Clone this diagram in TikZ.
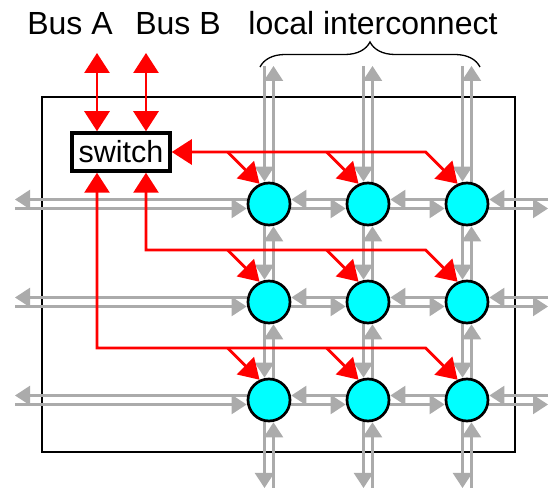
\documentclass[tikz,border=0pt]{standalone}
\usepackage{fontspec}
\setmainfont{Liberation Sans}
\usetikzlibrary{arrows.meta,calc,decorations.pathreplacing}
\definecolor{gline}{HTML}{ABABAB}
\definecolor{peblue}{HTML}{00FFFF}
\pgfdeclarelayer{bg}
\pgfdeclarelayer{mid}
\pgfsetlayers{bg,mid,main}
\begin{document}
\begin{tikzpicture}[x=1pt,y=-1pt,
  garr/.style={draw=gline,line width=2.3pt,-{Triangle[length=15pt,width=19pt]}},
  rline/.style={draw=red,line width=2.8pt},
  rtip/.style={-{Triangle[length=20pt,width=24pt]}},
  rboth/.style={{Triangle[length=20pt,width=25pt]}-{Triangle[length=20pt,width=25pt]}},
  pe/.style={circle,draw=black,fill=peblue,line width=2.7pt,minimum size=42pt,inner sep=0pt},
  swbox/.style={draw=black,fill=white,line width=3.5pt,minimum width=98pt,minimum height=38pt,inner sep=0pt,font=\fontsize{30.5}{32}\selectfont},
  lbl/.style={font=\fontsize{32}{34}\selectfont,anchor=base,inner sep=0pt},
  chipbox/.style={draw=black,line width=1.5pt,minimum width=473pt,minimum height=355pt,inner sep=0pt}]
\useasboundingbox (0,0) rectangle (550,489);

% labels
\node[lbl] (la) at (70,35) {Bus A};
\node[lbl] (lb) at (178,35) {Bus B};
\node[lbl] (lc) at (373,35) {local interconnect};

% processing elements
\foreach \r/\yy in {1/204,2/302,3/400}{
  \foreach \c/\xx in {1/269,2/368,3/467}{
    \node[pe] (n\r\c) at (\xx,\yy) {};
  }
  \coordinate (L\r) at (15,\yy);
  \coordinate (R\r) at (548,\yy);
}
\foreach \c/\xx in {1/269,2/368,3/467}{
  \coordinate (T\c) at (\xx,66);
  \coordinate (B\c) at (\xx,488);
}

% switch
\node[swbox] (sw) at (121,152) {switch};
\coordinate (swAn) at ([xshift=-24pt]sw.north);
\coordinate (swBn) at ([xshift=25pt]sw.north);
\coordinate (swAs) at ([xshift=-24pt]sw.south);
\coordinate (swBs) at ([xshift=25pt]sw.south);
\coordinate (busA) at (97,53);
\coordinate (busB) at (146,53);

% chip outline
\begin{pgfonlayer}{bg}
\node[chipbox] (chip) at (278.5,274.5) {};
\end{pgfonlayer}

% gray interconnect
\begin{pgfonlayer}{bg}
\foreach \r in {1,2,3}{
  \draw[garr] ([yshift=4.5pt]n\r1.west) -- ([yshift=4.5pt]L\r);
  \draw[garr] ([yshift=-4.5pt]L\r) -- ([yshift=-4.5pt]n\r1.west);
  \draw[garr] ([yshift=4.5pt]n\r2.west) -- ([yshift=4.5pt]n\r1.east);
  \draw[garr] ([yshift=-4.5pt]n\r1.east) -- ([yshift=-4.5pt]n\r2.west);
  \draw[garr] ([yshift=4.5pt]n\r3.west) -- ([yshift=4.5pt]n\r2.east);
  \draw[garr] ([yshift=-4.5pt]n\r2.east) -- ([yshift=-4.5pt]n\r3.west);
  \draw[garr] ([yshift=4.5pt]R\r) -- ([yshift=4.5pt]n\r3.east);
  \draw[garr] ([yshift=-4.5pt]n\r3.east) -- ([yshift=-4.5pt]R\r);
}
\foreach \c in {1,2,3}{
  \draw[garr] ([xshift=-4.5pt]T\c) -- ([xshift=-4.5pt]n1\c.north);
  \draw[garr] ([xshift=4.5pt]n1\c.north) -- ([xshift=4.5pt]T\c);
  \draw[garr] ([xshift=-4.5pt]n1\c.south) -- ([xshift=-4.5pt]n2\c.north);
  \draw[garr] ([xshift=4.5pt]n2\c.north) -- ([xshift=4.5pt]n1\c.south);
  \draw[garr] ([xshift=-4.5pt]n2\c.south) -- ([xshift=-4.5pt]n3\c.north);
  \draw[garr] ([xshift=4.5pt]n3\c.north) -- ([xshift=4.5pt]n2\c.south);
  \draw[garr] ([xshift=-4.5pt]n3\c.south) -- ([xshift=-4.5pt]B\c);
  \draw[garr] ([xshift=4.5pt]B\c) -- ([xshift=4.5pt]n3\c.south);
}
\end{pgfonlayer}

% red buses
\coordinate (h2) at (0,250);
\coordinate (h3) at (0,348);
\foreach \r in {1,2,3}{
  \foreach \c in {1,2,3}{
    \coordinate (d\r\c) at ($(n\r\c.115)+(-32,0)$);
  }
}
\begin{pgfonlayer}{mid}
\draw[rline,rboth] (busA) -- (swAn);
\draw[rline,rboth] (busB) -- (swBn);
\draw[rline,rboth] (sw.east) -- (d13 |- sw.east) -- (n13.115);
\draw[rline,rtip] (d11 |- sw.east) -- (n11.115);
\draw[rline,rtip] (d12 |- sw.east) -- (n12.115);
\draw[rline,rboth] (swBs) -- (swBs |- h2) -- (d23 |- h2) -- (n23.115);
\draw[rline,rtip] (d21 |- h2) -- (n21.115);
\draw[rline,rtip] (d22 |- h2) -- (n22.115);
\draw[rline,rboth] (swAs) -- (swAs |- h3) -- (d33 |- h3) -- (n33.115);
\draw[rline,rtip] (d31 |- h3) -- (n31.115);
\draw[rline,rtip] (d32 |- h3) -- (n32.115);
\end{pgfonlayer}

% brace
\coordinate (brL) at (260,67);
\coordinate (brR) at (480,67);
\draw[decorate,decoration={brace,amplitude=25pt},line width=1.3pt] (brL) -- (brR);
\end{tikzpicture}
\end{document}
